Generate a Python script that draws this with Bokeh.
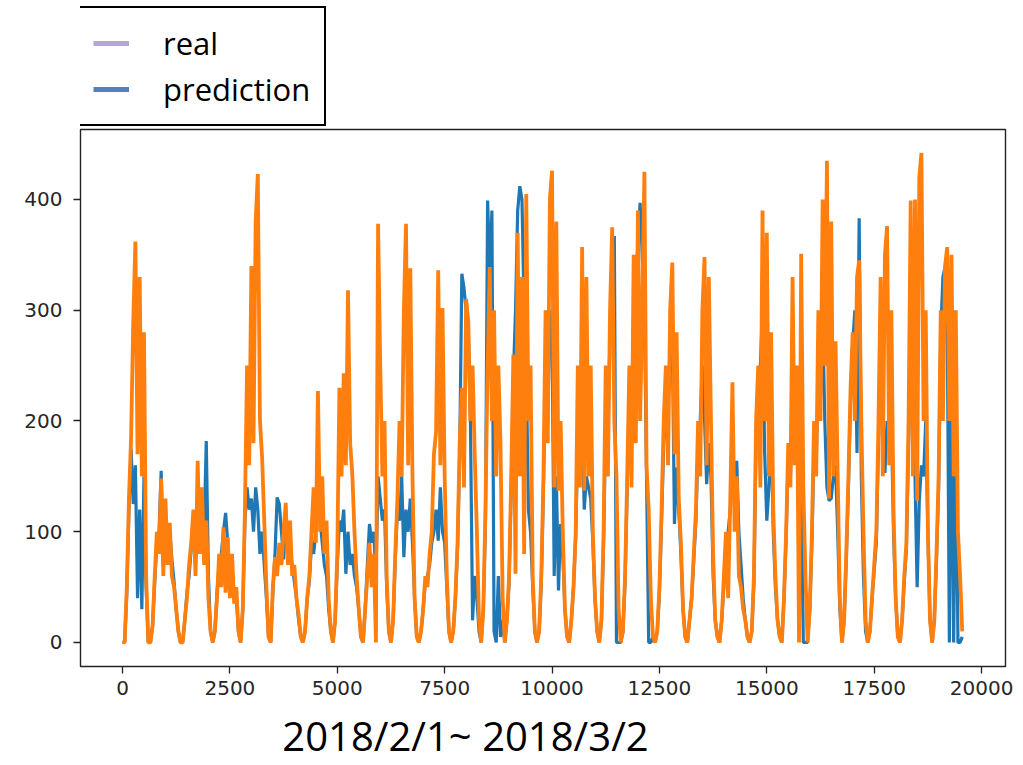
import numpy as np
from bokeh.plotting import figure
from bokeh.layouts import column
from bokeh.models import Range1d, FixedTicker, Legend, LegendItem, Label
from bokeh.embed import file_html
from bokeh.resources import INLINE

# sample spacing of the series (x index units)
STEP = 50

# blue series (drawn first), one line per day
real_counts = [
    0, 0, 45, 120, 175, 125, 160, 40, 120, 30, 150, 50, 0,
    0, 15, 55, 90, 100, 155, 70, 120, 80, 100, 75, 55, 30, 10,
    0, 0, 20, 45, 60, 85, 105, 70, 130, 90, 120, 100, 182, 60, 10,
    0, 10, 45, 70, 80, 100, 117, 90, 60, 70, 40, 40, 10,
    0, 30, 110, 140, 120, 130, 100, 140, 120, 80, 100, 70, 40, 5,
    0, 45, 80, 131, 125, 100, 75, 110, 90, 85, 70, 55, 40, 20, 5,
    0, 10, 40, 55, 90, 80, 100, 130, 110, 90, 70, 60, 30, 10,
    0, 20, 70, 110, 100, 120, 62, 100, 70, 80, 60, 50, 30, 5,
    0, 30, 70, 107, 90, 100, 60, 150, 130, 110, 120, 50, 10,
    0, 20, 75, 120, 110, 150, 77, 120, 100, 130, 90, 40, 5,
    0, 10, 30, 55, 60, 70, 90, 100, 120, 92, 140, 100, 90, 50, 10,
    0, 10, 40, 85, 170, 333, 320, 300, 280, 200, 20, 60, 40, 10,
    0, 30, 110, 399, 330, 390, 10, 0, 60, 5, 20,
    0, 20, 55, 140, 240, 300, 390, 412, 400, 300, 250, 120, 100, 50, 10,
    0, 10, 55, 140, 250, 200, 300, 280, 60, 150, 47, 107, 80, 30, 5,
    0, 20, 50, 95, 180, 150, 200, 120, 150, 140, 130, 90, 40, 10,
    0, 20, 90, 200, 180, 280, 300, 367, 0, 0,
    0, 10, 55, 140, 230, 200, 300, 330, 360, 397, 350, 300, 150, 0, 0, 5,
    0, 10, 45, 110, 180, 200, 230, 250, 280, 107, 158, 120, 80, 30, 5,
    0, 20, 40, 75, 110, 180, 200, 250, 203, 143, 180, 150, 60, 20, 5,
    0, 20, 50, 90, 100, 120, 150, 140, 164, 100, 70, 40, 20, 5,
    0, 10, 55, 180, 230, 250, 300, 171, 110, 140, 200, 100, 50, 20, 5,
    0, 40, 95, 170, 150, 200, 170, 180, 120, 150, 0, 0,
    0, 30, 90, 180, 160, 250, 220, 300, 200, 140, 128, 130, 150, 160, 100, 30,
    0, 20, 75, 140, 220, 270, 300, 171, 383, 150, 60, 10,
    0, 10, 40, 65, 90, 180, 250, 203, 153, 200, 180, 200, 100, 40, 5,
    0, 20, 55, 85, 180, 250, 200, 150, 50, 128, 160, 150, 200, 100, 20,
    0, 20, 75, 140, 280, 330, 339, 300, 0, 250, 0, 200, 0, 0, 5,
]

# orange series (drawn on top), one line per day
predicted_counts = [
    0, 0, 50, 130, 185, 290, 362, 170, 330, 150, 280, 60, 0,
    0, 15, 60, 100, 80, 148, 60, 130, 70, 108, 60, 50, 30, 10,
    0, 0, 20, 40, 70, 90, 120, 60, 164, 80, 140, 70, 110, 40, 10,
    0, 10, 40, 80, 50, 104, 45, 95, 40, 80, 35, 50, 10,
    0, 30, 120, 250, 160, 340, 180, 380, 423, 200, 167, 110, 50, 5,
    0, 50, 77, 60, 90, 70, 100, 126, 70, 110, 60, 70, 40, 25, 5,
    0, 10, 40, 60, 100, 140, 90, 227, 100, 150, 80, 110, 40, 10,
    0, 20, 80, 230, 150, 243, 160, 318, 180, 152, 100, 60, 30, 5,
    0, 30, 60, 90, 50, 80, 0, 378, 250, 150, 200, 60, 10,
    0, 20, 80, 130, 200, 150, 300, 378, 160, 338, 152, 40, 5,
    0, 10, 30, 60, 50, 80, 100, 170, 190, 336, 160, 302, 150, 60, 10,
    0, 10, 40, 90, 180, 230, 140, 310, 290, 200, 250, 170, 100, 20,
    0, 30, 120, 250, 339, 200, 300, 150, 250, 180, 40,
    0, 20, 60, 150, 260, 62, 370, 150, 330, 80, 405, 200, 250, 60, 10,
    0, 10, 60, 150, 300, 180, 400, 426, 140, 380, 137, 200, 100, 30, 5,
    0, 20, 50, 98, 250, 140, 357, 137, 330, 150, 250, 100, 40, 10,
    0, 20, 100, 250, 150, 300, 375, 200, 150, 30,
    0, 10, 60, 150, 250, 140, 350, 180, 390, 200, 300, 425, 160, 120, 40, 5,
    0, 10, 50, 120, 200, 250, 160, 300, 343, 170, 280, 130, 90, 30, 5,
    0, 20, 40, 80, 120, 200, 150, 300, 348, 160, 330, 200, 80, 20, 5,
    0, 20, 60, 100, 40, 130, 235, 100, 150, 60, 50, 30, 20, 5,
    0, 10, 60, 200, 250, 140, 390, 200, 370, 150, 280, 120, 60, 20, 5,
    0, 40, 100, 180, 140, 330, 160, 250, 0, 351, 140, 60,
    0, 30, 100, 200, 150, 300, 200, 400, 250, 435, 130, 380, 150, 272, 152, 40,
    0, 20, 80, 150, 230, 280, 200, 330, 345, 200, 100, 20,
    0, 10, 40, 70, 100, 200, 330, 150, 350, 376, 160, 300, 120, 40, 5,
    0, 20, 60, 90, 200, 399, 150, 400, 128, 420, 442, 200, 300, 100, 20,
    0, 20, 80, 150, 300, 200, 340, 357, 200, 350, 150, 300, 100, 60, 10,
]

x_ticks = [0, 2500, 5000, 7500, 10000, 12500, 15000, 17500, 20000]
y_ticks = [0, 100, 200, 300, 400]
legend_labels = ["real", "prediction"]
legend_colors = ["#b4a7d6", "#4f81bd"]
caption_text = "2018/2/1~ 2018/3/2"

x_vals = np.arange(len(real_counts)) * STEP

W = 1015


def bare_fig(h):
    f = figure(width=W, height=h, output_backend="svg", toolbar_location=None,
               x_range=Range1d(0, 1), y_range=Range1d(0, 1),
               x_axis_location=None, y_axis_location=None,
               min_border=0, min_border_left=0, min_border_right=0,
               min_border_top=0, min_border_bottom=0)
    f.outline_line_color = None
    f.background_fill_color = "white"
    f.border_fill_color = "white"
    f.grid.visible = False
    return f


# ---- legend strip (above the plot) ----
leg_fig = bare_fig(127)
# legend sample marks sit outside the visible range; only their legend glyphs show
dummies = [leg_fig.line(x=[-5, -4], y=[-5, -5], line_color=c, line_width=5)
           for c in legend_colors]
legend = Legend(
    items=[LegendItem(label=lab, renderers=[r]) for lab, r in zip(legend_labels, dummies)],
    location=(-3, 1),
    border_line_color="black", border_line_width=2, border_line_alpha=1,
    background_fill_color="white", background_fill_alpha=1,
    label_text_font="Open Sans", label_text_font_size="31px",
    label_text_color="black",
    glyph_width=36, glyph_height=40, label_height=40,
    spacing=4, padding=14, label_standoff=34, margin=0,
)
leg_fig.add_layout(legend)

# ---- main plot ----
p = figure(width=W, height=577, output_backend="svg", toolbar_location=None,
           x_range=Range1d(-978, 20557), y_range=Range1d(-21.7, 463.2),
           min_border_left=80, min_border_right=10, min_border_top=2,
           min_border_bottom=38)
p.background_fill_color = "white"
p.border_fill_color = "white"
p.outline_line_color = "#222222"
p.outline_line_width = 1.4
p.xgrid.grid_line_color = None
p.ygrid.grid_line_color = None

p.xaxis.ticker = FixedTicker(ticks=x_ticks)
p.yaxis.ticker = FixedTicker(ticks=y_ticks)
for ax in (p.xaxis[0], p.yaxis[0]):
    ax.axis_line_color = None
    ax.minor_tick_line_color = None
    ax.major_tick_out = 7
    ax.major_tick_in = 0
    ax.major_tick_line_color = "#222222"
    ax.major_tick_line_width = 1.3
    ax.major_label_text_font = "DejaVu Sans"
    ax.major_label_text_font_size = "20px"
    ax.major_label_text_color = "#262626"
    ax.major_label_standoff = 7
p.yaxis.major_label_standoff = 11

p.line(x_vals, real_counts, line_color="#1f77b4", line_width=3.2)
p.line(x_vals, predicted_counts, line_color="#ff7f0e", line_width=3.8)

# ---- caption strip (below the plot) ----
cap_fig = bare_fig(60)
cap_fig.add_layout(Label(x=385, y=29, x_units="screen", y_units="screen",
                         text=caption_text, text_align="center",
                         text_baseline="middle", text_font="Open Sans",
                         text_font_size="40px", text_color="black"))

layout = column(leg_fig, p, cap_fig, spacing=0)
open("out.html", "w").write(file_html(layout, INLINE))
